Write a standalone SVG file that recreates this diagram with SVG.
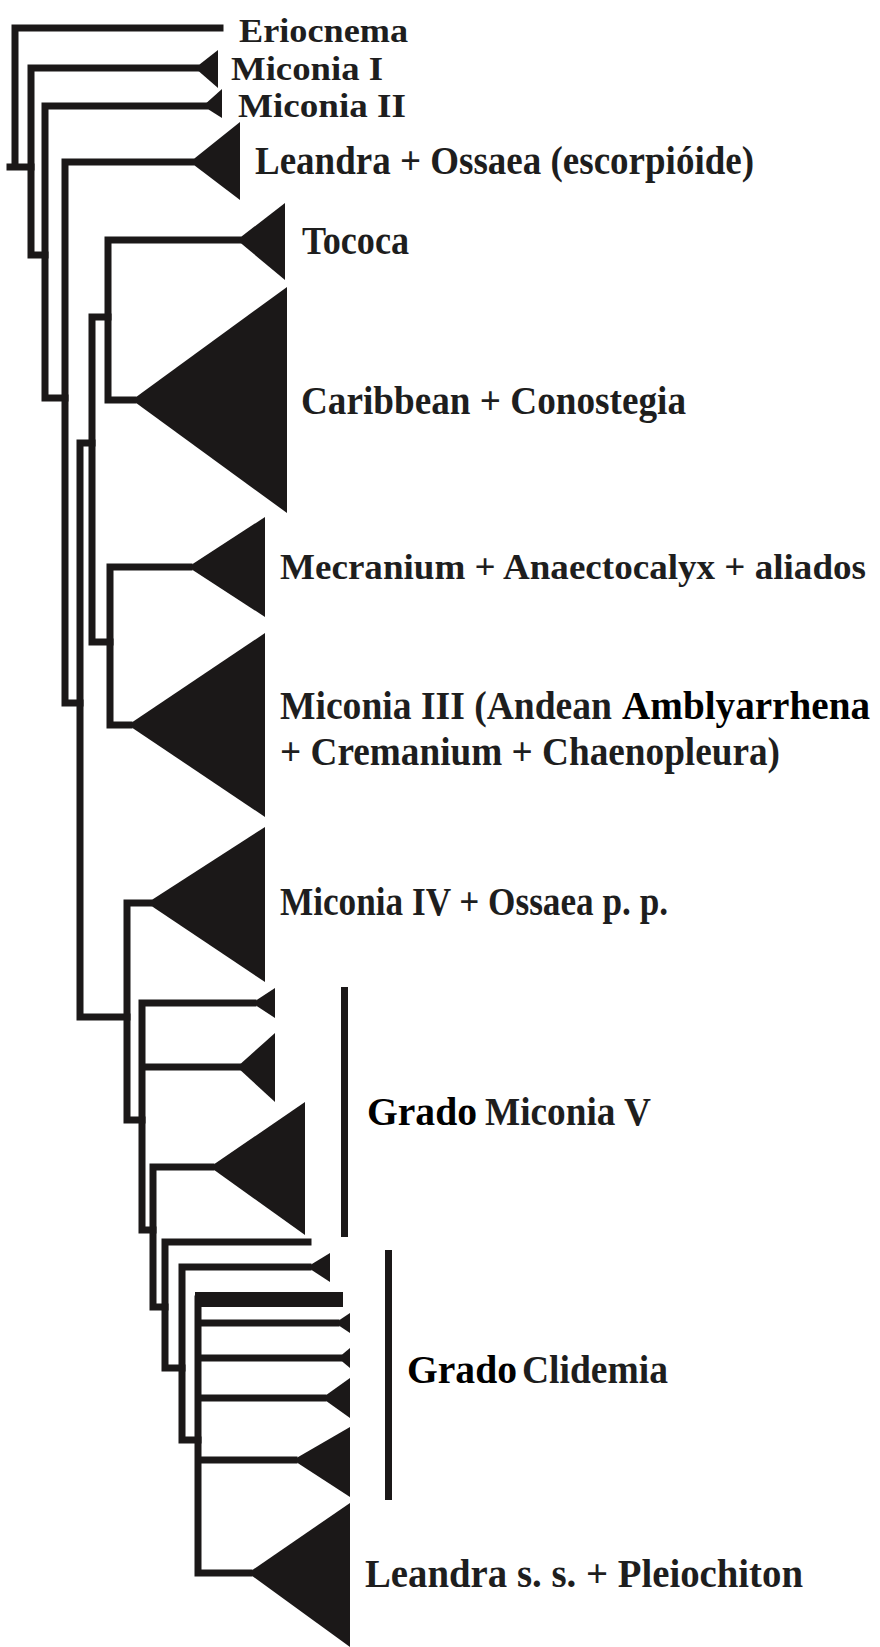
<svg xmlns="http://www.w3.org/2000/svg" width="880" height="1647" viewBox="0 0 880 1647">
<style>
.br{fill:none;stroke:#1b1818;stroke-width:7;stroke-linecap:square;stroke-linejoin:miter}
.tri{fill:#1b1818}
.bar{fill:#1b1818}
.lb{font-family:"Liberation Serif","Times New Roman",serif;font-weight:bold;font-size:40px;fill:#1e1e1e}
.sm{font-size:34px}
.md{font-size:36.5px}
.lk{font-family:"Liberation Serif","Times New Roman",serif;font-weight:bold;font-size:39px;fill:#000}
</style>
<rect width="880" height="1647" fill="#fff"/>
<g id="connectors">
<path class="br" d="M220,28 H15 V167 M10,167 H31"/>
<path class="br" d="M196,68 H31 V255 H45"/>
<path class="br" d="M205,106 H45 V398 H65"/>
<path class="br" d="M191,162 H65 V703 H80"/>
<path class="br" d="M92,443 H80 V1017 H127"/>
<path class="br" d="M108,317 H92 V642 H110"/>
<path class="br" d="M238,240 H108 V400 H133"/>
<path class="br" d="M189,567 H110 V725 H129"/>
<path class="br" d="M149,903 H127 V1120 H142"/>
<path class="br" d="M253,1003 H142 V1230 H153 M142,1067 H238"/>
<path class="br" d="M211,1167 H153 V1307 H165"/>
<path class="br" d="M308,1242 H165 V1368 H182"/>
<path class="br" d="M308,1267 H182 V1440 H198"/>
<path class="br" d="M198,1299 V1573 H249 M198,1323 H336 M198,1358 H339 M198,1398 H323 M198,1460 H294"/>
<rect class="bar" x="195" y="1292" width="148" height="15"/>
</g>
<g id="n-eriocnema"><text class="lb sm" x="239" y="42" textLength="169" lengthAdjust="spacingAndGlyphs">Eriocnema</text></g>
<g id="n-miconia1"><polygon class="tri" points="195,68 218,50 218,88"/><text class="lb sm" x="231" y="80" textLength="152" lengthAdjust="spacingAndGlyphs">Miconia I</text></g>
<g id="n-miconia2"><polygon class="tri" points="203,106 222,89 222,118"/><text class="lb sm" x="238" y="117" textLength="168" lengthAdjust="spacingAndGlyphs">Miconia II</text></g>
<g id="n-leandra-ossaea"><polygon class="tri" points="190,162 240,122 240,200"/><text class="lb" x="255" y="174" textLength="499" lengthAdjust="spacingAndGlyphs">Leandra + Ossaea (escorpióide)</text></g>
<g id="n-tococa"><polygon class="tri" points="237,240 285,203 285,280"/><text class="lb" x="302" y="254" textLength="107" lengthAdjust="spacingAndGlyphs">Tococa</text></g>
<g id="n-caribbean"><polygon class="tri" points="132,400 287,287 287,513"/><text class="lb" x="301" y="414" textLength="385" lengthAdjust="spacingAndGlyphs">Caribbean + Conostegia</text></g>
<g id="n-mecranium"><polygon class="tri" points="188,567 265,517 265,617"/><text class="lb md" x="280" y="579" textLength="586" lengthAdjust="spacingAndGlyphs">Mecranium + Anaectocalyx + aliados</text></g>
<g id="n-miconia3"><polygon class="tri" points="128,725 265,633 265,817"/><text class="lb" x="280" y="719" textLength="332" lengthAdjust="spacingAndGlyphs">Miconia III (Andean</text><text class="lk" x="622" y="719" textLength="248" lengthAdjust="spacingAndGlyphs">Amblyarrhena</text><text class="lb" x="280" y="765" textLength="500" lengthAdjust="spacingAndGlyphs">+ Cremanium + Chaenopleura)</text></g>
<g id="n-miconia4"><polygon class="tri" points="147,903 265,827 265,982"/><text class="lb" x="280" y="915" textLength="388" lengthAdjust="spacingAndGlyphs">Miconia IV + Ossaea p. p.</text></g>
<g id="n-grado-miconia5"><polygon class="tri" points="252,1003 275,988 275,1018"/><polygon class="tri" points="237,1067 275,1033 275,1102"/><polygon class="tri" points="210,1167 305,1102 305,1235"/><rect class="bar" x="341" y="987" width="7" height="250"/><text class="lk" x="367" y="1125" textLength="110" lengthAdjust="spacingAndGlyphs">Grado</text><text class="lb" x="485" y="1125" textLength="166" lengthAdjust="spacingAndGlyphs">Miconia V</text></g>
<g id="n-grado-clidemia"><polygon class="tri" points="307,1267 330,1253 330,1282"/><polygon class="tri" points="335,1323 350,1313 350,1333"/><polygon class="tri" points="338,1358 350,1348 350,1368"/><polygon class="tri" points="322,1398 350,1378 350,1418"/><polygon class="tri" points="293,1460 350,1427 350,1497"/><rect class="bar" x="385" y="1250" width="7" height="250"/><text class="lk" x="407" y="1383" textLength="110" lengthAdjust="spacingAndGlyphs">Grado</text><text class="lb" x="522" y="1383" textLength="146" lengthAdjust="spacingAndGlyphs">Clidemia</text></g>
<g id="n-leandra-ss"><polygon class="tri" points="248,1573 350,1503 350,1647"/><text class="lb" x="365" y="1587" textLength="438" lengthAdjust="spacingAndGlyphs">Leandra s. s. + Pleiochiton</text></g>
</svg>
